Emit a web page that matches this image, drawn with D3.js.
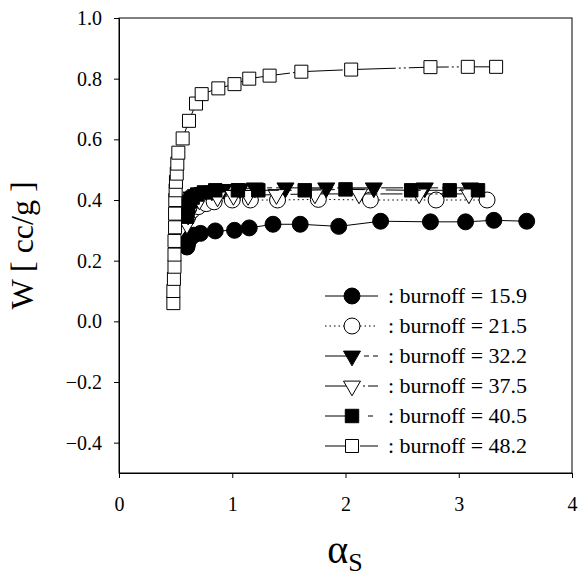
<!DOCTYPE html>
<html>
<head>
<meta charset="utf-8">
<script src="https://cdn.jsdelivr.net/npm/d3@7"></script>
<style>
    body { margin: 0; background: #fff; }
    svg text { font-family: "Liberation Serif", "Times New Roman", serif; }
</style>
</head>
<body>
<div id="chart"></div>
<script>
// data
const burnoffs = ['15.9', '21.5', '32.2', '37.5', '40.5', '48.2'];

const x159 = [0.60, 0.605, 0.61, 0.62, 0.635, 0.66, 0.72, 0.85, 1.02, 1.15, 1.36, 1.60, 1.94, 2.31, 2.75, 3.06, 3.31, 3.60];
const y159 = [0.245, 0.255, 0.263, 0.27, 0.278, 0.284, 0.29, 0.298, 0.30, 0.308, 0.32, 0.32, 0.313, 0.33, 0.328, 0.328, 0.333, 0.33];

const x215 = [0.60, 0.62, 0.65, 0.70, 0.77, 0.84, 1.00, 1.16, 1.40, 1.76, 2.22, 2.80, 3.25];
const y215 = [0.34, 0.355, 0.367, 0.378, 0.388, 0.394, 0.40, 0.40, 0.40, 0.402, 0.40, 0.40, 0.40];

const x322 = [0.60, 0.605, 0.61, 0.62, 0.64, 0.68, 0.74, 0.82, 0.92, 1.07, 1.20, 1.47, 1.83, 2.25, 2.70, 3.10];
const y322 = [0.35, 0.37, 0.385, 0.40, 0.41, 0.418, 0.425, 0.43, 0.435, 0.437, 0.44, 0.44, 0.44, 0.44, 0.44, 0.44];

const x375 = [0.60, 0.61, 0.63, 0.66, 0.71, 0.87, 1.01, 1.14, 1.39, 1.73, 2.12, 2.65, 3.09];
const y375 = [0.32, 0.35, 0.37, 0.385, 0.40, 0.41, 0.415, 0.415, 0.418, 0.42, 0.42, 0.42, 0.42];

const x405 = [0.60, 0.605, 0.61, 0.625, 0.65, 0.69, 0.75, 0.85, 1.05, 1.23, 1.64, 2.00, 2.58, 2.92, 3.17];
const y405 = [0.345, 0.365, 0.38, 0.395, 0.408, 0.418, 0.425, 0.432, 0.432, 0.432, 0.432, 0.435, 0.432, 0.432, 0.432];

const x482 = [0.48, 0.48, 0.485, 0.49, 0.49, 0.49, 0.495, 0.495, 0.497, 0.50, 0.503, 0.51, 0.515, 0.524, 0.562, 0.618, 0.68, 0.73, 0.877, 1.02, 1.15, 1.33, 1.61, 2.05, 2.75, 3.08, 3.33];
const y482 = [0.06, 0.10, 0.14, 0.18, 0.22, 0.265, 0.31, 0.355, 0.40, 0.432, 0.46, 0.487, 0.52, 0.556, 0.603, 0.661, 0.718, 0.749, 0.768, 0.782, 0.80, 0.81, 0.823, 0.83, 0.838, 0.839, 0.839];

const xTicks = [0, 1, 2, 3, 4];
const yTicks = [-0.4, -0.2, 0.0, 0.2, 0.4, 0.6, 0.8, 1.0];

const width = 580,
    height = 576;
const margin = { left: 119, top: 18, right: 8, bottom: 103 };
const innerW = width - margin.left - margin.right,
    innerH = height - margin.top - margin.bottom;

const svg = d3.select('#chart')
    .append('svg')
    .attr('width', width)
    .attr('height', height);

const group = svg.append('g')
    .attr('transform', 'translate(' + margin.left + ',' + margin.top + ')');

// scales
const x = d3.scaleLinear().domain([0, 4]).range([0, innerW]);
const y = d3.scaleLinear().domain([-0.5, 1.0]).range([innerH, 0]);

// frame
group.append('rect')
    .attr('width', innerW)
    .attr('height', innerH)
    .attr('fill', 'none')
    .attr('stroke', '#000')
    .attr('stroke-width', 1);

// axes
const xAxis = group.append('g')
    .attr('transform', 'translate(0,' + innerH + ')')
    .call(d3.axisBottom(x).tickValues(xTicks).tickSize(5).tickSizeOuter(0).tickPadding(19).tickFormat(d3.format('d')));
const yAxis = group.append('g')
    .call(d3.axisLeft(y).tickValues(yTicks).tickSize(5).tickSizeOuter(0).tickPadding(12).tickFormat(d3.format('.1f')));

[xAxis, yAxis].forEach(function(a) {
    a.attr('font-family', null);
    a.selectAll('text').attr('font-size', 20).attr('fill', '#000');
    a.selectAll('line').attr('stroke', '#000');
    a.select('.domain').attr('stroke', '#000');
});

// axis titles
svg.append('text')
    .attr('transform', 'translate(33,' + (margin.top + innerH / 2) + ') rotate(-90)')
    .attr('text-anchor', 'middle')
    .attr('font-size', 32)
    .text('W [ cc/g ]');

const xTitle = svg.append('text')
    .attr('x', 345)
    .attr('y', 563)
    .attr('text-anchor', 'middle')
    .attr('font-size', 40);
xTitle.append('tspan').text('α');
xTitle.append('tspan').attr('font-size', 26).attr('dy', 8).text('S');

// series setup (legOff: where the dash pattern restarts right of the legend marker)
const series = [
    { name: burnoffs[0], xs: x159, ys: y159, shape: d3.symbolCircle, size: 200, fill: '#000', rot: 0, dash: null, legOff: 0 },
    { name: burnoffs[1], xs: x215, ys: y215, shape: d3.symbolCircle, size: 200, fill: '#fff', rot: 0, dash: '1.5,3', legOff: 0 },
    { name: burnoffs[2], xs: x322, ys: y322, shape: d3.symbolTriangle, size: 125, fill: '#000', rot: 180, dash: '22,4,5,4', legOff: 22 },
    { name: burnoffs[3], xs: x375, ys: y375, shape: d3.symbolTriangle, size: 125, fill: '#fff', rot: 180, dash: '22,3,2,3', legOff: 22 },
    { name: burnoffs[4], xs: x405, ys: y405, shape: d3.symbolSquare, size: 180, fill: '#000', rot: 0, dash: '22,8,5,8', legOff: 22 },
    { name: burnoffs[5], xs: x482, ys: y482, shape: d3.symbolSquare, size: 169, fill: '#fff', rot: 0, dash: '40,3,2,3,2,3', legOff: 0 }
];

const line = d3.line()
    .x(function(d) { return x(d[0]); })
    .y(function(d) { return y(d[1]); });

series.forEach(function(s) {
    const pts = s.xs.map(function(v, i) { return [v, s.ys[i]]; });
    group.append('path')
        .datum(pts)
        .attr('d', line)
        .attr('fill', 'none')
        .attr('stroke', '#000')
        .attr('stroke-width', 1)
        .attr('stroke-dasharray', s.dash);

    group.selectAll(null)
        .data(pts)
        .enter()
        .append('path')
        .attr('d', d3.symbol().type(s.shape).size(s.size))
        .attr('transform', function(d) {
            return 'translate(' + x(d[0]) + ',' + y(d[1]) + ') rotate(' + s.rot + ')';
        })
        .attr('fill', s.fill)
        .attr('stroke', '#000')
        .attr('stroke-width', 1);
});

// legend
const legend = svg.append('g');
series.forEach(function(s, i) {
    const ly = 296 + i * 30;
    // left part of the sample line
    legend.append('line')
        .attr('x1', 325).attr('x2', 352)
        .attr('y1', ly).attr('y2', ly)
        .attr('stroke', '#000')
        .attr('stroke-dasharray', s.dash);
    // right part
    legend.append('line')
        .attr('x1', 360).attr('x2', 378)
        .attr('y1', ly).attr('y2', ly)
        .attr('stroke', '#000')
        .attr('stroke-dasharray', s.dash)
        .attr('stroke-dashoffset', s.legOff);
    legend.append('path')
        .attr('d', d3.symbol().type(s.shape).size(s.size))
        .attr('transform', 'translate(352,' + ly + ') rotate(' + s.rot + ')')
        .attr('fill', s.fill)
        .attr('stroke', '#000');
    legend.append('text')
        .attr('x', 388)
        .attr('y', ly + 7)
        .attr('font-size', 22)
        .text(': burnoff = ' + s.name);
});
</script>
</body>
</html>
